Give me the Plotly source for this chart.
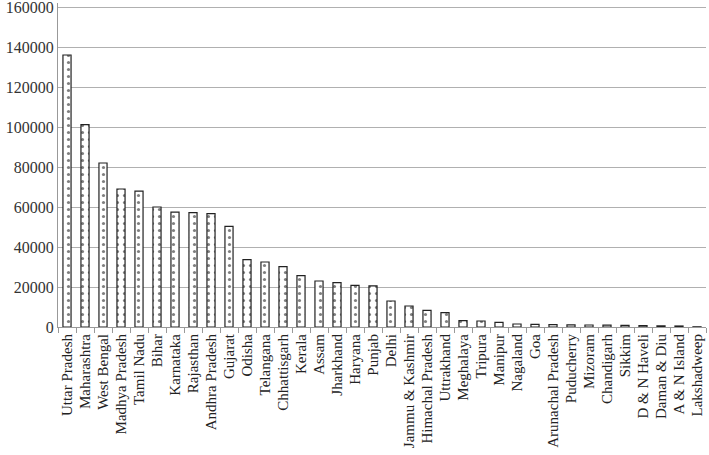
import plotly.graph_objects as go

states = ["Uttar Pradesh", "Maharashtra", "West Bengal", "Madhya Pradesh", "Tamil Nadu",
          "Bihar", "Karnataka", "Rajasthan", "Andhra Pradesh", "Gujarat", "Odisha",
          "Telangana", "Chhattisgarh", "Kerala", "Assam", "Jharkhand", "Haryana", "Punjab",
          "Delhi", "Jammu & Kashmir", "Himachal Pradesh", "Uttrakhand", "Meghalaya",
          "Tripura", "Manipur", "Nagaland", "Goa", "Arunachal Pradesh", "Puducherry",
          "Mizoram", "Chandigarh", "Sikkim", "D & N Haveli", "Daman & Diu",
          "A & N Island", "Lakshadweep"]
values = [136000, 101200, 82000, 69000, 67900, 60000, 57400, 57200, 56700, 50300, 33700,
          32500, 30200, 25700, 23000, 22200, 20800, 20600, 13000, 10500, 8300, 7200, 3200,
          3000, 2300, 1500, 1300, 1200, 1100, 1000, 900, 800, 700, 600, 500, 100]
y_ticks = [0, 20000, 40000, 60000, 80000, 100000, 120000, 140000, 160000]

fig = go.Figure(go.Bar(
    x=states, y=values, width=0.45,
    marker=dict(color="white", line=dict(color="#222", width=1.2),
                pattern=dict(shape=".", fgcolor="#000", bgcolor="white",
                             size=7, solidity=0.16, fillmode="overlay")),
))

fig.update_layout(
    width=709, height=455,
    margin=dict(l=58, r=3, t=3, b=128),
    paper_bgcolor="white", plot_bgcolor="white",
    showlegend=False, bargap=0.5,
    font=dict(family="Liberation Serif", color="#222"),
)
fig.update_xaxes(
    automargin=False,
    tickangle=-90, tickfont=dict(family="Liberation Serif", size=15, color="#222"),
    showline=True, linecolor="#999", linewidth=1,
    ticks="outside", tickson="boundaries", ticklen=5, tickcolor="#999",
    range=[-0.5, len(states) - 0.5],
)
fig.update_yaxes(
    automargin=False, ticklabeloverflow="allow",
    range=[0, 162000], tickvals=y_ticks, ticktext=[str(v) for v in y_ticks],
    tickfont=dict(family="Liberation Serif", size=16, color="#333"),
    showgrid=True, gridcolor="#b0b0b0", gridwidth=1.3,
    showline=True, linecolor="#999", linewidth=1,
    ticks="", zeroline=False,
)

fig.write_html("out.html", config={"displayModeBar": False},
               post_script="document.body.style.margin='0';document.body.style.overflow='hidden';")
